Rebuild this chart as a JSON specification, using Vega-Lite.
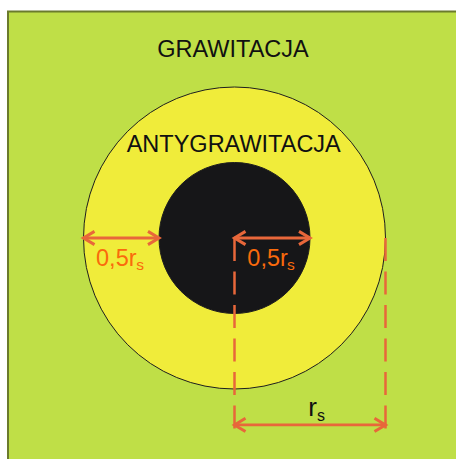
{
  "$schema": "https://vega.github.io/schema/vega-lite/v6.json",
  "width": 456,
  "height": 459,
  "autosize": {"type": "fit", "contains": "padding"},
  "padding": 0,
  "background": "white",
  "config": {"view": {"stroke": null}},
  "datasets": {
    "frame": [{"x": -1.5, "x2": 1.7, "y": -1.7, "y2": 1.5}],
    "discs": [
      {"x": 0, "y": 0, "r": 1, "zone": "antygrawitacja"},
      {"x": 0, "y": 0, "r": 0.5, "zone": "wnętrze"}
    ],
    "arrows": [
      {"x": -1, "x2": -0.5, "y": 0},
      {"x": 0, "x2": 0.5, "y": 0},
      {"x": 0, "x2": 1, "y": -1.238}
    ],
    "guides": [
      {"x": 0, "y": 0, "y2": -1.278},
      {"x": 1, "y": 0, "y2": -1.278}
    ],
    "heads": [
      {"x": -1, "y": 0, "dir": "left"},
      {"x": -0.5, "y": 0, "dir": "right"},
      {"x": 0, "y": 0, "dir": "left"},
      {"x": 0.5, "y": 0, "dir": "right"},
      {"x": 0, "y": -1.238, "dir": "left"},
      {"x": 1, "y": -1.238, "dir": "right"}
    ],
    "texts": [
      {"x": -0.01, "y": 1.199, "text": "GRAWITACJA", "kind": "title"},
      {"x": -0.005, "y": 0.57, "text": "ANTYGRAWITACJA", "kind": "title"},
      {"x": -0.917, "y": -0.185, "text": "0,5r", "kind": "label"},
      {"x": -0.65, "y": -0.209, "text": "s", "kind": "sub"},
      {"x": 0.085, "y": -0.185, "text": "0,5r", "kind": "label"},
      {"x": 0.348, "y": -0.209, "text": "s", "kind": "sub"},
      {"x": 0.489, "y": -1.179, "text": "r", "kind": "rs"},
      {"x": 0.546, "y": -1.212, "text": "s", "kind": "rssub"}
    ]
  },
  "encoding": {
    "x": {"field": "x", "type": "quantitative", "axis": null,
          "scale": {"domain": [-1.553, 1.4669], "nice": false, "zero": false}},
    "y": {"field": "y", "type": "quantitative", "axis": null,
          "scale": {"domain": [-1.4636, 1.5762], "nice": false, "zero": false}}
  },
  "layer": [
    {
      "data": {"name": "frame"},
      "mark": {"type": "rect", "fill": "#bfdf47", "stroke": "#6b7b2c", "strokeWidth": 2, "clip": true},
      "encoding": {"x2": {"field": "x2"}, "y2": {"field": "y2"}}
    },
    {
      "data": {"name": "discs"},
      "mark": {"type": "point", "shape": "circle", "filled": true, "opacity": 1, "stroke": "#1e1e1e", "strokeWidth": 1},
      "encoding": {
        "size": {"field": "r", "type": "quantitative", "legend": null,
                 "scale": {"type": "pow", "exponent": 2, "domain": [0, 1], "range": [0, 91204], "zero": true}},
        "color": {"field": "zone", "type": "nominal", "legend": null,
                  "scale": {"domain": ["antygrawitacja", "wnętrze"], "range": ["#f0ec3a", "#161618"]}},
        "order": {"field": "r", "sort": "descending"}
      }
    },
    {
      "data": {"name": "guides"},
      "mark": {"type": "rule", "color": "#e8673a", "strokeWidth": 2.5, "strokeDash": [23, 10.5]},
      "encoding": {"y2": {"field": "y2"}}
    },
    {
      "data": {"name": "arrows"},
      "mark": {"type": "rule", "color": "#e8673a", "strokeWidth": 2.8},
      "encoding": {"x2": {"field": "x2"}}
    },
    {
      "data": {"name": "heads"},
      "mark": {"type": "point", "filled": false, "opacity": 1, "stroke": "#e8673a", "strokeWidth": 3, "size": 121},
      "encoding": {
        "shape": {"field": "dir", "type": "nominal", "legend": null,
                  "scale": {"domain": ["left", "right"], "range": ["M2,-1.2L0,0L2,1.2", "M-2,-1.2L0,0L-2,1.2"]}}
      }
    },
    {
      "data": {"name": "texts"},
      "transform": [{"filter": "datum.kind === 'title'"}],
      "mark": {"type": "text", "align": "center", "baseline": "alphabetic", "font": "Liberation Sans", "fontSize": 23.5, "color": "#111111"},
      "encoding": {"text": {"field": "text"}}
    },
    {
      "data": {"name": "texts"},
      "transform": [{"filter": "datum.kind === 'label'"}],
      "mark": {"type": "text", "align": "left", "baseline": "alphabetic", "font": "Liberation Sans", "fontSize": 23.5, "color": "#fa6a0c"},
      "encoding": {"text": {"field": "text"}}
    },
    {
      "data": {"name": "texts"},
      "transform": [{"filter": "datum.kind === 'sub'"}],
      "mark": {"type": "text", "align": "left", "baseline": "alphabetic", "font": "Liberation Sans", "fontSize": 15.5, "color": "#fa6a0c"},
      "encoding": {"text": {"field": "text"}}
    },
    {
      "data": {"name": "texts"},
      "transform": [{"filter": "datum.kind === 'rs'"}],
      "mark": {"type": "text", "align": "left", "baseline": "alphabetic", "font": "Liberation Sans", "fontSize": 26, "color": "#111111"},
      "encoding": {"text": {"field": "text"}}
    },
    {
      "data": {"name": "texts"},
      "transform": [{"filter": "datum.kind === 'rssub'"}],
      "mark": {"type": "text", "align": "left", "baseline": "alphabetic", "font": "Liberation Sans", "fontSize": 16, "color": "#111111"},
      "encoding": {"text": {"field": "text"}}
    }
  ]
}
